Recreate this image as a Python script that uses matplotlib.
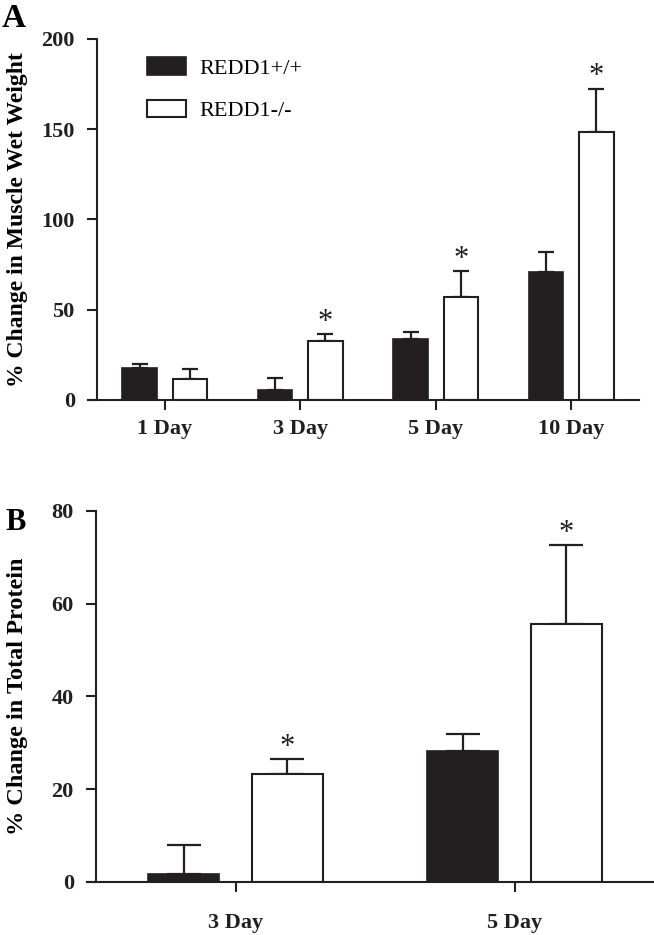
import numpy as np
import matplotlib
matplotlib.use("Agg")
from matplotlib import pyplot as plt
from matplotlib.patches import Patch

plt.rcParams['font.family'] = ['Liberation Serif', 'DejaVu Serif']

# panel A: muscle wet weight
days_a = ["1 Day", "3 Day", "5 Day", "10 Day"]
wt_a = [17.7, 5.5, 33.7, 71.0]
wt_a_err = [2.3, 6.8, 4.1, 11.0]
ko_a = [11.6, 32.7, 57.0, 148.5]
ko_a_err = [5.4, 3.8, 14.5, 24.0]
sig_a = [False, True, True, True]

# panel B: total protein
days_b = ["3 Day", "5 Day"]
wt_b = [1.7, 28.2]
wt_b_err = [6.3, 3.8]
ko_b = [23.3, 55.6]
ko_b_err = [3.2, 17.0]
sig_b = [True, True]

labels = ["REDD1+/+", "REDD1-/-"]
black = "#231f20"

W, H = 654, 935
fig = plt.figure(figsize=(W / 100, H / 100), dpi=100)
axA = fig.add_axes([0.1483, 0.5722, 0.8287, 0.3861])
axB = fig.add_axes([0.1468, 0.0567, 0.8532, 0.3968])


def draw(ax, days, wt, wt_err, ko, ko_err, sig, ymax, ystep, capsize, xpad):
    x = np.arange(len(days))
    w = 0.255
    off = 0.186
    ax.bar(x - off, wt, w, color=black, edgecolor=black, linewidth=1.2, zorder=2)
    ax.bar(x + off, ko, w, color="white", edgecolor=black, linewidth=1.5, zorder=2)
    ax.errorbar(x - off, wt, yerr=[np.zeros(len(wt)), wt_err], fmt="none",
                ecolor=black, elinewidth=1.6, capsize=capsize, capthick=1.6, zorder=1)
    ax.errorbar(x + off, ko, yerr=[np.zeros(len(ko)), ko_err], fmt="none",
                ecolor=black, elinewidth=1.6, capsize=capsize, capthick=1.6, zorder=1)
    for i in range(len(days)):
        if sig[i]:
            ax.annotate("*", (x[i] + off, ko[i] + ko_err[i]), xytext=(0, 3),
                        textcoords="offset points", ha="center", va="baseline",
                        fontsize=22, color=black)
    ax.set_xlim(-0.5, len(days) - 0.5)
    ax.set_ylim(0, ymax)
    ax.set_yticks(np.arange(0, ymax + 1, ystep))
    ax.set_xticks(x)
    ax.set_xticklabels(days)
    for s in ["top", "right"]:
        ax.spines[s].set_visible(False)
    for s in ["left", "bottom"]:
        ax.spines[s].set_linewidth(1.5)
        ax.spines[s].set_color(black)
        ax.spines[s].set_zorder(3)
    # x axis line runs a little past the y axis, as in the original
    width_px = ax.get_position().width * W
    ext = 9 / width_px * len(days)
    ax.spines["bottom"].set_bounds(-0.5 - ext, len(days) - 0.5)
    ax.tick_params(axis="y", length=7, width=1.5, pad=9, labelsize=16, colors=black)
    ax.tick_params(axis="x", length=7, width=1.5, pad=xpad, labelsize=16, colors=black)
    for t in ax.get_xticklabels() + ax.get_yticklabels():
        t.set_fontweight("bold")


draw(axA, days_a, wt_a, wt_a_err, ko_a, ko_a_err, sig_a, 200, 50, 6, 7)
draw(axB, days_b, wt_b, wt_b_err, ko_b, ko_b_err, sig_b, 80, 20, 12, 15)

axA.set_ylabel("% Change in Muscle Wet Weight", fontsize=17, fontweight="bold")
axA.yaxis.set_label_coords(-0.128, 0.5)
axB.set_ylabel("% Change in Total Protein", fontsize=17.5, fontweight="bold")
axB.yaxis.set_label_coords(-0.122, 0.5)

handles = [Patch(facecolor=black, edgecolor=black, linewidth=1.2),
           Patch(facecolor="white", edgecolor=black, linewidth=1.5)]
axA.legend(handles, labels, loc="upper left", bbox_to_anchor=(0.092, 0.95),
           frameon=False, fontsize=16, handlelength=1.75, handleheight=0.85,
           handletextpad=0.6, labelspacing=0.95, borderpad=0, borderaxespad=0)

fig.text(0.003, 0.997, "A", fontsize=24, fontweight="bold", va="top", ha="left")
fig.text(0.008, 0.457, "B", fontsize=22, fontweight="bold", va="top", ha="left")

fig.savefig("out.png", dpi=100)
